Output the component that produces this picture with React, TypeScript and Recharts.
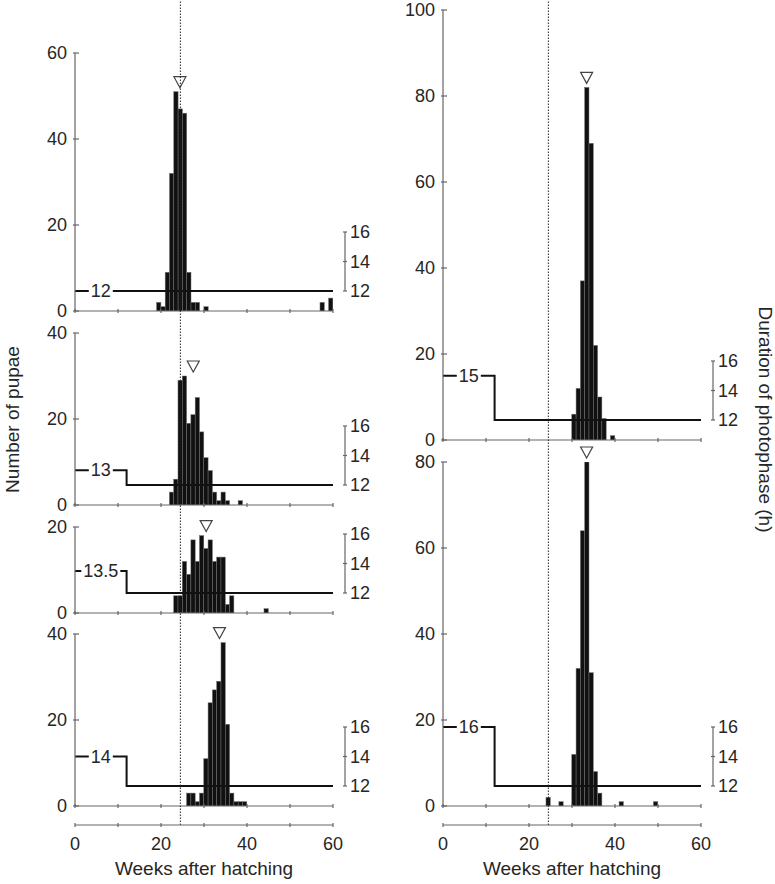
import React from 'react';
import { ComposedChart, Bar, Line, XAxis, YAxis, ReferenceLine, ReferenceDot, Label } from 'recharts';

// ---------------- DATA ----------------
// Weekly pupation histograms (bin centre, weeks after hatching) per initial photophase
const weeks12h = [19.5, 20.5, 21.5, 22.5, 23.5, 24.5, 25.5, 26.5, 27.5, 28.5, 30.5, 57.5, 59.5];
const pupae12h = [2, 1, 9, 32, 51, 47, 46, 9, 2, 2, 1, 2, 3];

const weeks13h = [22.5, 23.5, 24.5, 25.5, 26.5, 27.5, 28.5, 29.5, 30.5, 31.5, 32.5, 33.5, 34.5, 35.5, 38.5];
const pupae13h = [3, 6, 29, 30, 19, 21, 25, 17, 11, 8, 3, 1, 3, 1, 1];

const weeks135h = [23.5, 24.5, 25.5, 26.5, 27.5, 28.5, 29.5, 30.5, 31.5, 32.5, 33.5, 34.5, 35.5, 36.5, 44.5];
const pupae135h = [4, 4, 12, 9, 17, 12, 18, 15, 17, 12, 13, 13, 2, 4, 1];

const weeks14h = [26.5, 27.5, 28.5, 29.5, 30.5, 31.5, 32.5, 33.5, 34.5, 35.5, 36.5, 37.5, 38.5, 39.5];
const pupae14h = [3, 3, 1, 3, 11, 24, 27, 29, 38, 19, 3, 1, 1, 1];

const weeks15h = [30.5, 31.5, 32.5, 33.5, 34.5, 35.5, 36.5, 37.5, 39.5];
const pupae15h = [6, 12, 37, 82, 69, 22, 10, 5, 1];

const weeks16h = [24.5, 27.5, 30.5, 31.5, 32.5, 33.5, 34.5, 35.5, 36.5, 41.5, 49.5];
const pupae16h = [2, 1, 12, 32, 64, 80, 31, 8, 3, 1, 1];

// photophase regime: initial photophase, switched to final at switchWeek
const initialPhotophase = [12, 13, 13.5, 14, 15, 16];
const finalPhotophase = 12;
const switchWeek = 12;

// mean pupation time markers (triangles)
const meanWeeks = [24.4, 27.5, 30.5, 33.6, 33.4, 33.4];

// reference (dotted) week
const referenceWeek = 24.5;

// tick labels
const xTicks = [0, 10, 20, 30, 40, 50, 60];
const xLabelTicks = [0, 20, 40, 60];
const photoTicks = [12, 14, 16];
const yTicks60 = [0, 20, 40, 60];
const yTicks40 = [0, 20, 40];
const yTicks20 = [0, 20];
const yTicks100 = [0, 20, 40, 60, 80, 100];
const yTicks80 = [0, 20, 40, 60, 80];

// ---------------- STYLE / LAYOUT ----------------
const FONT = '"Liberation Sans", Arial, Helvetica, sans-serif';
const AXIS = '#666';
const TEXT = '#262626';
const TICK_FS = 18;
const TITLE_FS = 19;

const PX_PER_WEEK = 4.3;
const PX_PER_PUPA = 4.3;
const PX_PER_HOUR = 14.75;
const PHOTO12_ABOVE_BASE = 20;
const LABEL_WEEK = 6;
const BRACKET_WEEK = 60 + 12 / PX_PER_WEEK;
const AXIS_BOTTOM = 825;

const COLS = [
  { left: 0, width: 400, yW: 75, rW: 67 },
  { left: 368, width: 407, yW: 75, rW: 74 },
];

const PANELS = [
  { col: 0, bottom: 311, yMax: 60, yTicks: yTicks60, weeks: weeks12h, counts: pupae12h, idx: 0 },
  { col: 0, bottom: 505, yMax: 40, yTicks: yTicks40, weeks: weeks13h, counts: pupae13h, idx: 1 },
  { col: 0, bottom: 613, yMax: 20, yTicks: yTicks20, weeks: weeks135h, counts: pupae135h, idx: 2 },
  { col: 0, bottom: 806, yMax: 40, yTicks: yTicks40, weeks: weeks14h, counts: pupae14h, idx: 3 },
  { col: 1, bottom: 440, yMax: 100, yTicks: yTicks100, weeks: weeks15h, counts: pupae15h, idx: 4 },
  { col: 1, bottom: 806, yMax: 80, yTicks: yTicks80, weeks: weeks16h, counts: pupae16h, idx: 5 },
];

// ---------------- TICKS / SHAPES ----------------
const renderCountTick = (p: any) => {
  const { x, y, payload } = p;
  return (
    <g>
      <line x1={x} x2={x + 6} y1={y} y2={y} stroke={AXIS} strokeWidth={1.2} />
      <text x={x - 6} y={y} textAnchor="end" dominantBaseline="central" fontSize={TICK_FS} fill={TEXT} fontFamily={FONT}>
        {payload.value}
      </text>
    </g>
  );
};

const renderPhotoTick = (p: any) => {
  const { x, y, payload } = p;
  return (
    <g>
      <line x1={x + 8} x2={x + 12} y1={y} y2={y} stroke={AXIS} strokeWidth={1.2} />
      <text x={x + 15} y={y} textAnchor="start" dominantBaseline="central" fontSize={TICK_FS} fill={TEXT} fontFamily={FONT}>
        {payload.value}
      </text>
    </g>
  );
};

const renderInnerXTick = (p: any) => {
  const { x, y } = p;
  return <line x1={x} x2={x} y1={y} y2={y - 4} stroke={AXIS} strokeWidth={1.2} />;
};

const renderBottomTick = (p: any) => {
  const { x, y, payload } = p;
  return (
    <g>
      <line x1={x} x2={x} y1={y} y2={y - 4} stroke={AXIS} strokeWidth={1.2} />
      {xLabelTicks.includes(payload.value) && (
        <text x={x} y={y + 17} textAnchor="middle" dominantBaseline="central" fontSize={TICK_FS} fill={TEXT} fontFamily={FONT}>
          {payload.value}
        </text>
      )}
    </g>
  );
};

const renderHistBar = (p: any) => {
  const { x, y, width, height } = p;
  if (!height || height <= 0) return <g />;
  const cx = x + width / 2;
  return (
    <rect x={cx - PX_PER_WEEK / 2} y={y} width={PX_PER_WEEK} height={height} fill="#111" stroke="#6e6e6e" strokeWidth={0.5} />
  );
};

const textWidth = (s: string, fs: number) =>
  s.split('').reduce((a, c) => a + (c === '.' ? 0.278 : 0.556) * fs, 0);

const PhotoLabel = (p: any) => {
  const { cx, cy, value } = p;
  const s = String(value);
  const w = textWidth(s, TICK_FS) + 4;
  return (
    <g>
      <rect x={cx - w / 2} y={cy - 9} width={w} height={18} fill="#fff" />
      <text x={cx} y={cy} textAnchor="middle" dominantBaseline="central" fontSize={TICK_FS} fill={TEXT} fontFamily={FONT}>
        {s}
      </text>
    </g>
  );
};

const Triangle = (p: any) => {
  const { cx, cy } = p;
  const pts = `${cx - 6},${cy - 15} ${cx + 6},${cy - 15} ${cx},${cy - 4}`;
  return <polygon points={pts} fill="#fff" stroke="#444" strokeWidth={1.2} />;
};

// ---------------- PANEL ----------------
function Panel({ cfg }: { cfg: any }) {
  const col = COLS[cfg.col];
  const plotH = cfg.yMax * PX_PER_PUPA;
  const mt = 20;
  const mb = 12;
  const xh = 1;
  const H = mt + plotH + xh + mb;
  const top = cfg.bottom - plotH - mt;
  const data = cfg.weeks.map((w: number, i: number) => ({ w, n: cfg.counts[i] }));
  const start = initialPhotophase[cfg.idx];
  const photoData =
    start === finalPhotophase
      ? [{ w: 0, p: start }, { w: 60, p: finalPhotophase }]
      : [{ w: 0, p: start }, { w: switchWeek, p: finalPhotophase }, { w: 60, p: finalPhotophase }];
  const lo = 12 - PHOTO12_ABOVE_BASE / PX_PER_HOUR;
  const hi = lo + plotH / PX_PER_HOUR;
  const maxN = Math.max(...cfg.counts);
  return (
    <div style={{ position: 'absolute', left: col.left, top }}>
      <ComposedChart width={col.width} height={H} data={data} margin={{ top: mt, right: 0, bottom: mb, left: 0 }}>
        <XAxis
          dataKey="w"
          type="number"
          domain={[0, 60]}
          allowDataOverflow
          ticks={xTicks}
          interval={0}
          height={xh}
          tickSize={0}
          tickLine={false}
          tick={renderInnerXTick}
          axisLine={{ stroke: AXIS, strokeWidth: 1.2 }}
        />
        <YAxis
          yAxisId="n"
          orientation="left"
          width={col.yW}
          type="number"
          domain={[0, cfg.yMax]}
          allowDataOverflow
          ticks={cfg.yTicks}
          interval={0}
          tickSize={0}
          tickLine={false}
          tick={renderCountTick}
          axisLine={{ stroke: AXIS, strokeWidth: 1.2 }}
        />
        <YAxis
          yAxisId="photo"
          orientation="right"
          width={col.rW}
          type="number"
          domain={[lo, hi]}
          allowDataOverflow
          ticks={photoTicks}
          interval={0}
          tickSize={0}
          tickLine={false}
          tick={renderPhotoTick}
          axisLine={false}
        />
        <Bar yAxisId="n" dataKey="n" barSize={PX_PER_WEEK} shape={renderHistBar} isAnimationActive={false} />
        <Line
          yAxisId="photo"
          data={photoData}
          dataKey="p"
          type="stepAfter"
          stroke="#111"
          strokeWidth={2}
          dot={false}
          activeDot={false}
          isAnimationActive={false}
        />
        <ReferenceLine
          yAxisId="photo"
          segment={[{ x: BRACKET_WEEK, y: 12 }, { x: BRACKET_WEEK, y: 16 }]}
          stroke={AXIS}
          strokeWidth={1.2}
          ifOverflow="visible"
        />
        <ReferenceDot yAxisId="photo" x={LABEL_WEEK} y={start} ifOverflow="visible" shape={(p: any) => <PhotoLabel {...p} value={start} />} />
        <ReferenceDot yAxisId="n" x={meanWeeks[cfg.idx]} y={maxN} ifOverflow="visible" shape={(p: any) => <Triangle {...p} />} />
      </ComposedChart>
    </div>
  );
}

// ---------------- COLUMN FRAME (bottom axis, dotted line, titles) ----------------
const weeksTitle = (p: any) => {
  const vb = p.viewBox || {};
  return (
    <text x={vb.x + vb.width / 2} y={vb.y + 50} textAnchor="middle" fontSize={TITLE_FS} fill={TEXT} fontFamily={FONT}>
      Weeks after hatching
    </text>
  );
};

const pupaeTitle = (p: any) => {
  const vb = p.viewBox || {};
  const x = vb.x + 12;
  const y = vb.y + vb.height / 2 + 7;
  return (
    <text x={x} y={y} transform={`rotate(-90 ${x} ${y})`} textAnchor="middle" dominantBaseline="central" fontSize={TITLE_FS} fill={TEXT} fontFamily={FONT}>
      Number of pupae
    </text>
  );
};

const photophaseTitle = (p: any) => {
  const vb = p.viewBox || {};
  const x = vb.x + 64;
  const y = vb.y + vb.height / 2 + 7;
  return (
    <text x={x} y={y} transform={`rotate(90 ${x} ${y})`} textAnchor="middle" dominantBaseline="central" fontSize={TITLE_FS} fill={TEXT} fontFamily={FONT}>
      Duration of photophase (h)
    </text>
  );
};

function ColumnFrame({ colIdx }: { colIdx: number }) {
  const col = COLS[colIdx];
  const H = 884;
  const frameData = [{ w: 0, v: 0 }, { w: 60, v: 0 }];
  return (
    <div style={{ position: 'absolute', left: col.left, top: 0 }}>
      <ComposedChart width={col.width} height={H} data={frameData} margin={{ top: 0, right: 0, bottom: 0, left: 0 }}>
        <XAxis
          dataKey="w"
          type="number"
          domain={[0, 60]}
          allowDataOverflow
          ticks={xTicks}
          interval={0}
          height={H - AXIS_BOTTOM}
          tickSize={0}
          tickLine={false}
          tick={renderBottomTick}
          axisLine={{ stroke: AXIS, strokeWidth: 1.2 }}
        >
          <Label content={weeksTitle} />
        </XAxis>
        <YAxis yAxisId="l" orientation="left" width={col.yW} type="number" domain={[0, 1]} allowDataOverflow tick={false} tickLine={false} axisLine={false}>
          {colIdx === 0 ? <Label content={pupaeTitle} /> : null}
        </YAxis>
        <YAxis yAxisId="r" orientation="right" width={col.rW} type="number" domain={[0, 1]} allowDataOverflow tick={false} tickLine={false} axisLine={false}>
          {colIdx === 1 ? <Label content={photophaseTitle} /> : null}
        </YAxis>
        <Line yAxisId="l" dataKey="v" stroke="none" dot={false} activeDot={false} isAnimationActive={false} />
        <ReferenceLine
          yAxisId="l"
          x={referenceWeek}
          stroke="#222"
          strokeWidth={1}
          strokeDasharray="1.5 1.5"
          ifOverflow="visible"
        />
      </ComposedChart>
    </div>
  );
}

export default function App() {
  return (
    <div style={{ position: 'absolute', left: 0, top: 0, width: 775, height: 884, background: '#fff', overflow: 'hidden', fontFamily: FONT }}>
      {PANELS.map((cfg, i) => (
        <Panel key={i} cfg={cfg} />
      ))}
      <ColumnFrame colIdx={0} />
      <ColumnFrame colIdx={1} />
    </div>
  );
}
